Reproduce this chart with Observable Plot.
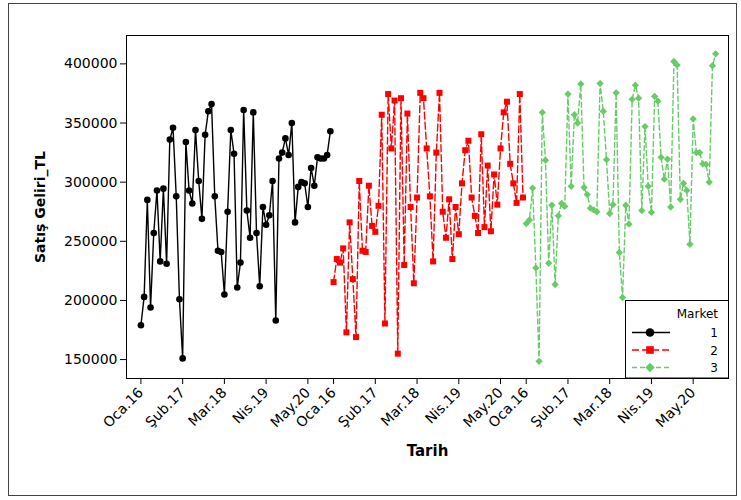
<!DOCTYPE html>
<html><head><meta charset="utf-8">
<script src="https://cdn.jsdelivr.net/npm/d3@7"></script>
<script src="https://cdn.jsdelivr.net/npm/@observablehq/plot@0.6"></script>
<style>
body{margin:0;background:#fff;}
#wrap{position:relative;width:741px;height:500px;overflow:hidden;}
#legend{position:absolute;left:0;top:0;}
#border{position:absolute;left:8px;top:3px;width:729px;height:493px;border:1px solid #444;box-sizing:border-box;pointer-events:none;}
</style></head><body>
<div id="wrap"><div id="chart"></div><svg id="legend" width="741" height="500"></svg><div id="border"></div></div>
<script>
// Market 1 (Oca.16 .. Ara.20), monthly sales revenue in TL
const market1 = [179000,203000,285000,194000,257000,293000,233000,294500,231000,336000,
  346000,288000,201000,151000,334000,293000,282000,344000,301000,269000,
  340000,360000,366000,288000,242000,241000,205000,275000,344000,324000,
  211000,232000,361000,276000,253000,359000,257000,212000,279000,264000,
  272000,301000,183000,320000,325000,337000,323000,350000,266000,296000,
  300000,299000,279000,312000,297000,321000,320000,320000,323000,343000];
const market2 = [215500,235000,232000,244000,173000,266000,218000,169000,301000,242000,
  241000,297000,263000,258000,280000,357000,180500,374500,328500,369000,
  155000,371000,230000,358000,279000,214500,287000,375500,371000,328500,
  288000,233000,325000,375500,275000,253000,285500,235000,279000,256000,
  299000,327000,335000,287000,271500,257000,340500,262000,314000,258500,
  306500,281000,328500,359000,368000,315500,299000,282500,374500,287000];
const market3 = [265000,268000,295000,227500,148500,359000,318500,231500,280500,213500,
  271500,282000,279500,374500,296500,357000,350000,383000,295500,289500,
  278000,276500,275000,383500,360000,319000,273500,281000,375500,240500,
  202500,280500,264500,370000,382000,371000,276000,347000,296500,274500,
  372500,368500,321000,302500,319500,279000,402000,399000,285500,299000,
  293000,247500,353500,325000,325000,315500,315000,300000,398500,408500];
const markets = ["1", "2", "3"];
const tickLabels = ["Oca.16", "Şub.17", "Mar.18", "Nis.19", "May.20"];
const tickMonthOffsets = [0, 13, 26, 39, 52];
const yTicks = [150000, 200000, 250000, 300000, 350000, 400000];
const xTitle = "Tarih";
const yTitle = "Satış Geliri_TL";

const series = [market1, market2, market3];
const rows = [];
series.forEach((vals, s) => vals.forEach((v, k) => rows.push({i: s * vals.length + k + 1, v, market: markets[s]})));
const n = market1.length;
const tickIdx = [], labelMap = new Map();
for (let s = 0; s < 3; s++) tickMonthOffsets.forEach((o, j) => { const i = s * n + o + 1; tickIdx.push(i); labelMap.set(i, tickLabels[j]); });

const styles = {
  "1": {stroke: "#000000", dash: null, symbol: "circle", r: 3.3, sw: 1.4},
  "2": {stroke: "#ff0000", dash: "7,3", symbol: "square", r: 3.4, sw: 1.4},
  "3": {stroke: "#66cc66", dash: "5,3", symbol: "diamond2", r: 3.3, sw: 1.4}
};

const marks = [Plot.frame({stroke: "#000", strokeWidth: 1})];
markets.forEach(m => {
  const d = rows.filter(r => r.market === m), st = styles[m];
  marks.push(Plot.line(d, {x: "i", y: "v", stroke: st.stroke, strokeWidth: st.sw, strokeDasharray: st.dash}));
  marks.push(Plot.dot(d, {x: "i", y: "v", fill: st.stroke, r: st.r, symbol: st.symbol}));
});
marks.push(Plot.text([yTitle], {text: d => d, frameAnchor: "left", dx: -86, rotate: -90, textAnchor: "middle", lineAnchor: "middle", fontWeight: "bold", fontSize: 14}));
marks.push(Plot.text([xTitle], {text: d => d, frameAnchor: "bottom", dy: 73, textAnchor: "middle", lineAnchor: "middle", fontWeight: "bold", fontSize: 15}));

const chart = Plot.plot({
  width: 741, height: 500,
  marginLeft: 126, marginRight: 13, marginTop: 35, marginBottom: 122,
  style: {fontFamily: "DejaVu Sans", fontSize: "14px", background: "transparent", color: "#000", overflow: "visible"},
  x: {domain: [-3.49, 184], ticks: tickIdx, tickFormat: i => labelMap.get(i), tickRotate: -45, label: null, tickSize: 6},
  y: {domain: [134000, 424000], ticks: yTicks, tickFormat: d3.format("d"), label: null, tickSize: 6},
  marks
});
document.getElementById("chart").appendChild(chart);

// Legend
const leg = d3.select("#legend").style("font-family", "DejaVu Sans").style("font-size", "12px");
const g = leg.append("g");
g.append("rect").attr("x", 625.5).attr("y", 300.5).attr("width", 103).attr("height", 77.5).attr("fill", "#fff").attr("stroke", "#000");
g.append("text").attr("x", 718).attr("y", 318).attr("text-anchor", "end").text("Market");
const symMap = {circle: d3.symbolCircle, square: d3.symbolSquare, diamond2: d3.symbolDiamond2};
markets.forEach((m, k) => {
  const st = styles[m], y = 332.5 + k * 17.5;
  g.append("line").attr("x1", 632).attr("x2", 670).attr("y1", y).attr("y2", y).attr("stroke", st.stroke).attr("stroke-width", 1.4).attr("stroke-dasharray", st.dash);
  g.append("path").attr("transform", `translate(650,${y})`).attr("d", d3.symbol(symMap[st.symbol], Math.PI * 4.3 * 4.3)()).attr("fill", st.stroke);
  g.append("text").attr("x", 718).attr("y", y + 4.5).attr("text-anchor", "end").text(m);
});
</script>
</body></html>
